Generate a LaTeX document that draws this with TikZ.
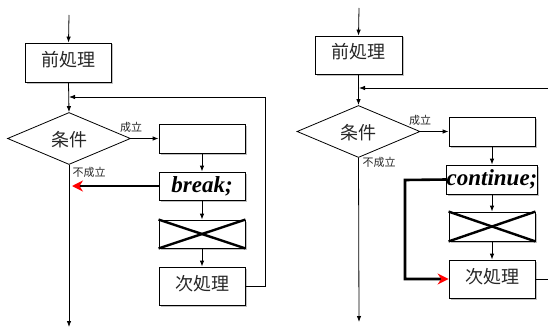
\documentclass[tikz,border=0pt]{standalone}
\usepackage{fontspec}
\setmainfont{Liberation Serif}
\newfontfamily\cjk{Noto Sans CJK JP}
\usetikzlibrary{arrows.meta,shapes.geometric,shadows}
\begin{document}
\begin{tikzpicture}[x=1pt,y=-1pt,
  box/.style={draw,line width=0.8pt,fill=white,minimum width=86pt,inner sep=0pt,
    drop shadow={shadow xshift=1.5pt,shadow yshift=-1.5pt,fill=black!30,opacity=0.8}},
  cjkbox/.style={box,font=\cjk\fontsize{18}{18}\selectfont,text=black!85,text height=13pt,text depth=5pt},
  kw/.style={box,font=\fontsize{23}{23}\selectfont\bfseries\itshape},
  cond/.style={draw,line width=0.8pt,diamond,minimum width=123pt,minimum height=47pt,inner sep=0pt,
    font=\cjk\fontsize{18}{18}\selectfont,text=black!85,text height=16pt,text depth=0pt},
  lbl/.style={font=\cjk\fontsize{11}{11}\selectfont,text=black!85,inner sep=0pt},
  ln/.style={line width=0.8pt},
  arr/.style={ln,-{Latex[length=6pt,width=4.5pt]}},
  thk/.style={line width=2.6pt},
  redarr/.style={line width=2.6pt,-{Stealth[length=11pt,width=11pt,color=red]}},
  cross/.style={line width=2.4pt}
]
\useasboundingbox (0,0) rectangle (548,329);
% ---------------- left ----------------
\coordinate (Ltop) at (69,15);
\node[cjkbox,minimum height=39pt] (pre1) at (68.5,62.5) {前処理};
\node[cond] (cond1) at (69,138.5) {条件};
\node[box,minimum height=29pt] (e1) at (202,138.5) {};
\node[kw,minimum height=28pt] (brk1) at (202,186) {break;};
\node[box,minimum height=28pt] (x1) at (202,234) {};
\node[cjkbox,minimum height=38pt] (nxt1) at (202,286) {次処理};
\node[lbl] (ok1) at (131,127) {成立};
\node[lbl] (ng1) at (89,172) {不成立};
\coordinate (Lloop) at (69,97);
\coordinate (Lr1) at (265,286);
\coordinate (Lr2) at (265,97);
\coordinate (Lbot) at (69,327);
\coordinate (Lred) at (72,186);

\draw[arr] (Ltop) -- (pre1.north);
\draw[arr] (pre1.south) -- (cond1.north);
\draw[arr] (cond1.east) -- (e1.west);
\draw[arr] (e1.south) -- (brk1.north);
\draw[arr] (brk1.south) -- (x1.north);
\draw[arr] (x1.south) -- (nxt1.north);
\draw[arr] (nxt1.east) -- (Lr1) -- (Lr2) -- (Lloop);
\draw[arr] (cond1.south) -- (Lbot);
\draw[redarr] (brk1.west) -- (Lred);
\draw[cross] (x1.north west) -- (x1.south east);
\draw[cross] (x1.south west) -- (x1.north east);

% ---------------- right ----------------
\coordinate (Rtop) at (359,8);
\node[cjkbox,minimum width=87pt,minimum height=38pt] (pre2) at (358.5,55) {前処理};
\node[cond] (cond2) at (358.5,131.5) {条件};
\node[box,minimum height=29pt] (e2) at (492,131.5) {};
\node[kw,minimum height=29pt] (cont2) at (492,179.5) {continue;};
\node[box,minimum height=29pt] (x2) at (492,226.5) {};
\node[cjkbox,minimum height=38pt] (nxt2) at (492,279) {次処理};
\node[lbl] (ok2) at (420,120) {成立};
\node[lbl] (ng2) at (379,162) {不成立};
\coordinate (Rloop) at (359,88);
\coordinate (Rin) at (548,88);
\coordinate (Rout) at (548,279);
\coordinate (Rbot) at (359,322);
\coordinate (Rbend) at (405,180);

\draw[arr] (Rtop) -- (pre2.north);
\draw[arr] (pre2.south) -- (cond2.north);
\draw[arr] (Rin) -- (Rloop);
\draw[arr] (cond2.east) -- (e2.west);
\draw[arr] (e2.south) -- (cont2.north);
\draw[arr] (cont2.south) -- (x2.north);
\draw[arr] (x2.south) -- (nxt2.north);
\draw[ln] (nxt2.east) -- (Rout);
\draw[arr] (cond2.south) -- (Rbot);
\draw[redarr] (cont2.west) -- (Rbend) |- (nxt2.west);
\draw[cross] (x2.north west) -- (x2.south east);
\draw[cross] (x2.south west) -- (x2.north east);
\end{tikzpicture}
\end{document}
